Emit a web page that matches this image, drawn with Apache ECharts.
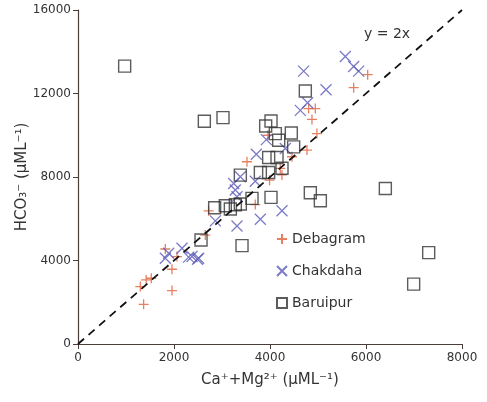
<!DOCTYPE html>
<html lang="en">
<head>
    <meta charset="UTF-8">
    <title>HCO3 vs Ca+Mg</title>
    <script src="https://cdn.jsdelivr.net/npm/echarts@6/dist/echarts.min.js"></script>
    <style>
        html, body { margin: 0; padding: 0; background: #fff; }
        #chart { width: 487px; height: 402px; }
    </style>
</head>
<body>
    <div id="chart"></div>
    <script>
        // data (Ca+Mg, HCO3)
        const debagramX = [1367, 1298, 1420, 1527, 1958, 1958, 1819, 2062, 2652, 2721, 3520, 3693, 3956, 3991, 4214, 4249, 4458, 4770, 4804, 4944, 4874, 4978, 5743, 6035];
        const debagramY = [1900, 2750, 3070, 3150, 2560, 3580, 4550, 4190, 5220, 6380, 8730, 6680, 10000, 7850, 8410, 8100, 8970, 9290, 11280, 11280, 10760, 10080, 12280, 12900];

        const chakdahaX = [1820, 1890, 2167, 2304, 2375, 2490, 2514, 2861, 3313, 3313, 3243, 3277, 3382, 3693, 3715, 3799, 3924, 4250, 4319, 4632, 4783, 4701, 5167, 5569, 5743, 5847];
        const chakdahaY = [4110, 4350, 4590, 4160, 4190, 4060, 4110, 5900, 5650, 7054, 7690, 7374, 8010, 7800, 9090, 5980, 9790, 6385, 9363, 11190, 11560, 13073, 12181, 13774, 13296, 13073];

        const baruipurX = [972, 2632, 3021, 4736, 4021, 3910, 4111, 4181, 4444, 4493, 3972, 4146, 3382, 3799, 3972, 4250, 3625, 4021, 4840, 5049, 6403, 2847, 3069, 3174, 3278, 3382, 3417, 2563, 7306, 6993];
        const baruipurY = [13312, 10669, 10844, 12118, 10685, 10446, 10080, 9761, 10111, 9443, 8933, 8933, 8089, 8217, 8217, 8420, 6975, 7022, 7245, 6863, 7452, 6529, 6624, 6465, 6672, 6704, 4713, 4984, 4379, 2866];

        const xTicks = { min: 0, max: 8000, interval: 2000 };
        const yTicks = { min: 0, max: 16000, interval: 4000 };
        const refLine = [[0, 0], [8000, 16000]]; // y = 2x

        const zip = (xs, ys) => xs.map((x, i) => [x, ys[i]]);

        const font = 'DejaVu Sans, Verdana, sans-serif';
        const axisColor = '#4a3e3a';

        const plusPath = 'path://M5,0 L5,10 M0,5 L10,5';
        const crossPath = 'path://M0,0 L10,10 M10,0 L0,10';

        const chart = echarts.init(document.getElementById('chart'));

        const option = {
            animation: false,
            textStyle: { fontFamily: font },
            grid: { left: 78, right: 25, top: 10, bottom: 58 },
            xAxis: {
                type: 'value',
                min: xTicks.min, max: xTicks.max, interval: xTicks.interval,
                name: 'Ca⁺+Mg²⁺ (μML⁻¹)',
                nameLocation: 'middle',
                nameGap: 29,
                nameMoveOverlap: false,
                nameTextStyle: { fontSize: 15, color: '#333', fontFamily: font },
                axisLine: { lineStyle: { color: axisColor, width: 1.2 } },
                axisTick: { show: true, length: 5, lineStyle: { color: axisColor } },
                axisLabel: { fontSize: 12, color: '#333', margin: 8, fontFamily: font, formatter: v => String(v) },
                splitLine: { show: false }
            },
            yAxis: {
                type: 'value',
                min: yTicks.min, max: yTicks.max, interval: yTicks.interval,
                name: 'HCO₃⁻ (μML⁻¹)',
                nameLocation: 'middle',
                nameGap: 48,
                nameMoveOverlap: false,
                nameTextStyle: { fontSize: 15, color: '#333', fontFamily: font },
                axisLine: { show: true, lineStyle: { color: axisColor, width: 1.2 } },
                axisTick: { show: true, length: 5, lineStyle: { color: axisColor } },
                axisLabel: { fontSize: 12, color: '#333', margin: 7, fontFamily: font, formatter: v => String(v) },
                splitLine: { show: false }
            },
            legend: {
                orient: 'vertical',
                left: 271,
                top: 227,
                itemGap: 18,
                itemWidth: 10,
                itemHeight: 10,
                textStyle: { fontSize: 14, color: '#333', fontFamily: font },
                data: ['Debagram', 'Chakdaha', 'Baruipur']
            },
            graphic: [{
                type: 'text',
                left: 364,
                top: 27,
                style: { text: 'y = 2x', fontSize: 14, fill: '#333', fontFamily: font }
            }],
            series: [
                {
                    name: 'Debagram',
                    type: 'scatter',
                    symbol: plusPath,
                    symbolSize: 10,
                    itemStyle: { color: 'rgba(0,0,0,0)', borderColor: '#e0603a', borderWidth: 1.3 },
                    data: zip(debagramX, debagramY),
                    markLine: {
                        silent: true,
                        symbol: ['none', 'none'],
                        label: { show: false },
                        lineStyle: { color: '#111', type: [8, 6], width: 1.8 },
                        data: [[{ coord: refLine[0] }, { coord: refLine[1] }]]
                    },
                    z: 3
                },
                {
                    name: 'Chakdaha',
                    type: 'scatter',
                    symbol: crossPath,
                    symbolSize: 11,
                    itemStyle: { color: 'rgba(0,0,0,0)', borderColor: '#5a5ab8', borderWidth: 1.3 },
                    data: zip(chakdahaX, chakdahaY),
                    z: 3
                },
                {
                    name: 'Baruipur',
                    type: 'scatter',
                    symbol: 'rect',
                    symbolSize: 12,
                    itemStyle: { color: 'rgba(0,0,0,0)', borderColor: '#333', borderWidth: 1.4 },
                    data: zip(baruipurX, baruipurY),
                    z: 4
                }
            ]
        };

        chart.setOption(option);
    </script>
</body>
</html>
